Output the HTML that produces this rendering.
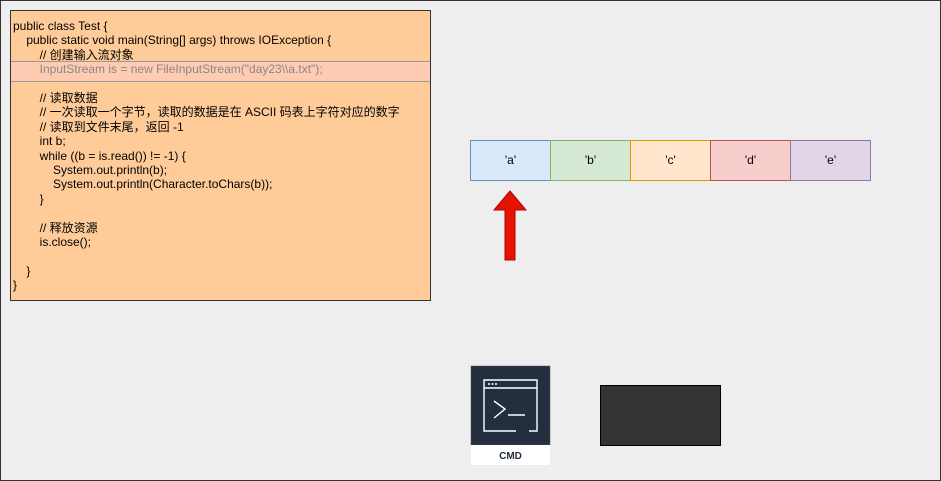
<!DOCTYPE html>
<html><head><meta charset="utf-8"><style>
body{margin:0;width:941px;height:481px;overflow:hidden;background:#eeeeee;position:relative;font-family:"Liberation Sans","Noto Sans CJK SC",sans-serif;}
.frame{position:absolute;left:0;top:0;width:939px;height:479px;border:1px solid #333;}
.code{position:absolute;left:10px;top:10px;width:419px;height:289px;background:#ffcc99;border:1px solid #333;}
.hl{position:absolute;left:0;top:50px;width:419px;height:19px;background:#ffccb3;border-top:1px solid #999;border-bottom:1px solid #999;}
.txt{position:absolute;left:2px;top:8px;font-size:12px;line-height:14.4px;color:#000;white-space:pre;}
.cell{position:absolute;top:140px;width:79px;height:39px;border:1px solid;font-size:12px;line-height:39px;text-align:center;}
</style></head><body>
<div class="frame"></div>
<div class="code"><div class="hl"></div><div class="txt">public class Test {
    public static void main(String[] args) throws IOException {
        // 创建输入流对象
<span style="color:#888">        InputStream is = new FileInputStream("day23\\a.txt");</span>

        // 读取数据
        // 一次读取一个字节，读取的数据是在 ASCII 码表上字符对应的数字
        // 读取到文件末尾，返回 -1
        int b;
        while ((b = is.read()) != -1) {
            System.out.println(b);
            System.out.println(Character.toChars(b));
        }

        // 释放资源
        is.close();

    }
}</div></div>
<div class="cell" style="left:470px;background:#dae8fc;border-color:#6c8ebf">'a'</div>
<div class="cell" style="left:550px;background:#d5e8d4;border-color:#82b366">'b'</div>
<div class="cell" style="left:630px;background:#ffe6cc;border-color:#d79b00">'c'</div>
<div class="cell" style="left:710px;background:#f8cecc;border-color:#b85450">'d'</div>
<div class="cell" style="left:790px;background:#e1d5e7;border-color:#9673a6">'e'</div>
<svg style="position:absolute;left:0;top:0" width="941" height="481">
<polygon points="510,191 526,210 515,210 515,260 505,260 505,210 494,210" fill="#e51400" stroke="#b20000" stroke-width="1"/>
<rect x="471" y="366" width="79" height="79" fill="#232f3e" stroke="#555" stroke-width="0.5"/>
<rect x="471" y="445" width="79" height="20" fill="#fff"/>
<text x="510.5" y="459" font-size="10" font-weight="bold" text-anchor="middle" fill="#232f3e" font-family="Liberation Sans">CMD</text>
<g stroke="#fff" stroke-width="1.4" fill="none">
<path d="M516,431 H484 V380 H537 V431 H529"/>
<line x1="484" y1="388" x2="537" y2="388"/>
<path d="M494,401 L505,409 L494,418"/>
<line x1="508" y1="415" x2="525" y2="415"/>
</g>
<g fill="#fff"><circle cx="489" cy="384" r="1"/><circle cx="492.5" cy="384" r="1"/><circle cx="496" cy="384" r="1"/></g>
<rect x="600.5" y="385.5" width="120" height="60" fill="#333" stroke="#000"/>
</svg>
</body></html>
